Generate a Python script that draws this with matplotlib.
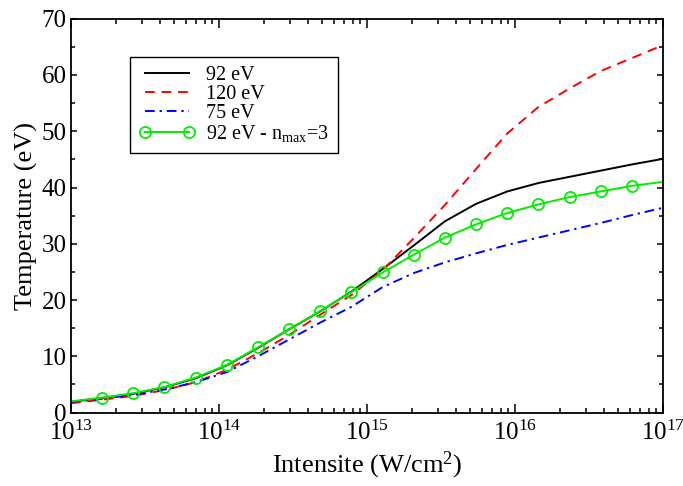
import matplotlib
matplotlib.use('Agg')
from matplotlib import pyplot as plt
from matplotlib.ticker import LogLocator, MultipleLocator, NullFormatter

# intensity grid (W/cm^2)
intensity = [1.0e13, 1.624e13, 2.637e13, 4.281e13, 6.952e13,
             1.129e14, 1.833e14, 2.976e14, 4.833e14, 7.848e14,
             1.274e15, 2.069e15, 3.360e15, 5.456e15, 8.859e15,
             1.438e16, 2.336e16, 3.793e16, 6.158e16, 1.0e17]

# temperatures (eV)
t_92 = [1.9, 2.6, 3.35, 4.5, 6.1, 8.4, 11.5, 14.8, 18.0, 21.5,
        25.5, 29.7, 34.0, 37.1, 39.3, 40.8, 41.9, 43.0, 44.1, 45.1]
t_120 = [1.67, 2.3, 2.97, 4.0, 5.4, 7.6, 10.55, 13.8, 17.4, 20.9,
         25.3, 31.0, 36.9, 43.3, 49.6, 54.3, 57.6, 60.7, 63.0, 65.3]
t_75 = [1.9, 2.45, 3.15, 4.1, 5.4, 7.2, 10.0, 13.0, 16.0, 18.8,
        22.3, 24.8, 26.7, 28.3, 29.8, 31.1, 32.4, 33.7, 35.1, 36.4]
t_92_nmax3 = [2.0, 2.66, 3.45, 4.56, 6.22, 8.47, 11.6, 14.8, 18.06, 21.4,
              24.9, 28.06, 31.1, 33.46, 35.47, 37.0, 38.3, 39.3, 40.3, 41.0]

labels = ['92 eV', '120 eV', '75 eV', r'92 eV - n$_{\mathrm{max}}$=3']

plt.rcParams['font.family'] = ['Liberation Serif', 'DejaVu Serif']
plt.rcParams['mathtext.fontset'] = 'custom'
plt.rcParams['mathtext.rm'] = 'Liberation Serif'
plt.rcParams['mathtext.it'] = 'Liberation Serif:italic'
plt.rcParams['mathtext.bf'] = 'Liberation Serif:bold'

fig = plt.figure(figsize=(6.83, 4.86), dpi=100)
ax = fig.add_axes([0.104, 0.151, 0.8667, 0.8105])

green = '#00ee00'
ax.plot(intensity, t_92, color='black', lw=1.4, label=labels[0])
ax.plot(intensity, t_120, color='red', lw=1.4, dashes=(5, 3.5), label=labels[1])
ax.plot(intensity, t_75, color='blue', lw=1.4, dashes=(5, 2.5, 1.2, 2.5), label=labels[2])
ax.plot(intensity, t_92_nmax3, color=green, lw=1.4, marker='o', ms=8,
        mfc='none', mec=green, mew=1.3, markevery=slice(1, -1), label=labels[3])

ax.set_xscale('log')
ax.set_xlim(1e13, 1e17)
ax.set_ylim(0, 70)
ax.xaxis.set_major_locator(LogLocator(base=10, numticks=10))
ax.xaxis.set_minor_locator(LogLocator(base=10, subs=range(2, 10), numticks=10))
ax.xaxis.set_minor_formatter(NullFormatter())
ax.yaxis.set_major_locator(MultipleLocator(10))
ax.yaxis.set_minor_locator(MultipleLocator(5))

ax.tick_params(which='both', direction='in', top=True, right=True, width=1.1)
ax.tick_params(axis='x', which='major', length=6.5, labelsize=18, pad=6)
ax.tick_params(axis='x', which='minor', length=3.5)
ax.tick_params(axis='y', which='major', length=4.6, labelsize=18, pad=3)
ax.tick_params(axis='y', which='minor', length=3.2)
for s in ax.spines.values():
    s.set_linewidth(1.3)

ax.set_xlabel(r'Intensite (W/cm$^{2}$)', fontsize=19, labelpad=3)
ax.set_ylabel('Temperature (eV)', fontsize=19, labelpad=3)

leg = ax.legend(loc='upper left', bbox_to_anchor=(0.0997, 0.903), borderaxespad=0,
                fontsize=14.5, handlelength=2.8, handletextpad=0.5, labelspacing=0.0,
                numpoints=2, fancybox=False, framealpha=1, edgecolor='black',
                borderpad=0.45)
leg.get_frame().set_linewidth(1.0)

plt.savefig('out.png', dpi=100)
